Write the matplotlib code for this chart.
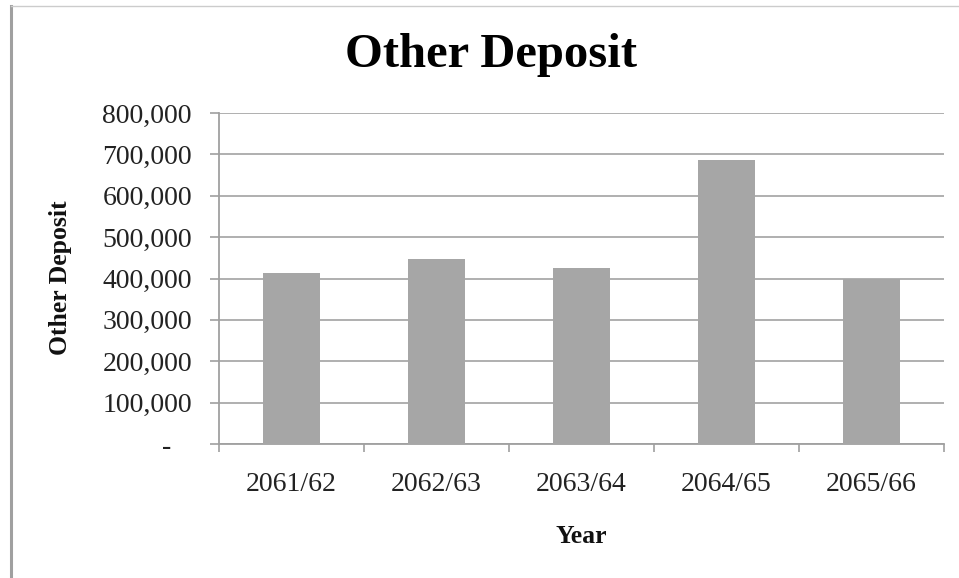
import matplotlib.pyplot as plt
from matplotlib.ticker import FuncFormatter
from matplotlib.lines import Line2D

years = ['2061/62', '2062/63', '2063/64', '2064/65', '2065/66']
deposit = [413000, 447000, 425000, 686000, 399000]
yticks = [0, 100000, 200000, 300000, 400000, 500000, 600000, 700000, 800000]

plt.rcParams['font.family'] = ['Liberation Serif', 'DejaVu Serif']

fig = plt.figure(figsize=(9.59, 5.78), dpi=100)
ax = fig.add_axes([0.2284, 0.2318, 0.756, 0.5727])

# accounting style: zero shown as a dash, padded like the spreadsheet does
def fmt(v, pos):
    if v == 0:
        return '-   '
    return '{:,.0f}'.format(v)

x = range(len(years))
ax.bar(x, deposit, width=0.39, color='#a6a6a6', zorder=3)
ax.set_xlim(-0.5, len(years) - 0.5)
ax.set_ylim(0, 800000)
ax.set_yticks(yticks)
ax.yaxis.set_major_formatter(FuncFormatter(fmt))
ax.yaxis.grid(True, color='#a9a9a9', linewidth=1.3, zorder=0)

# ticks sit on the category boundaries, labels in the middle
ax.set_xticks([i - 0.5 for i in range(len(years) + 1)])
ax.set_xticklabels([])
ax.set_xticks(list(x), minor=True)
ax.set_xticklabels(years, minor=True)
ax.tick_params(axis='x', which='major', length=6, width=1.2, color='#a0a0a0', direction='out')
ax.tick_params(axis='x', which='minor', length=0, pad=20, labelsize=20, labelcolor='#222222')
ax.tick_params(axis='y', length=6.5, width=1.2, color='#a0a0a0', pad=13, labelsize=20, labelcolor='#222222')

for s in ['top', 'right']:
    ax.spines[s].set_visible(False)
for s in ['left', 'bottom']:
    ax.spines[s].set_color('#a0a0a0')
    ax.spines[s].set_linewidth(1.3)

fig.text(0.0626, 0.519, 'Other Deposit', rotation=90, ha='center', va='center',
         fontsize=18.5, fontweight='bold', color='#111111')
fig.text(0.606, 0.072, 'Year', ha='center', va='center',
         fontsize=18.5, fontweight='bold', color='#111111')
fig.text(0.512, 0.905, 'Other Deposit', ha='center', va='center',
         fontsize=35, fontweight='bold', color='black')

# frame lines around the picture
fig.add_artist(Line2D([0.0115, 0.0115], [0, 0.99], transform=fig.transFigure,
                      color='#a0a0a0', linewidth=2.2))
fig.add_artist(Line2D([0.0115, 1], [0.99, 0.99], transform=fig.transFigure,
                      color='#cccccc', linewidth=1))

fig.savefig('out.png', dpi=100)
